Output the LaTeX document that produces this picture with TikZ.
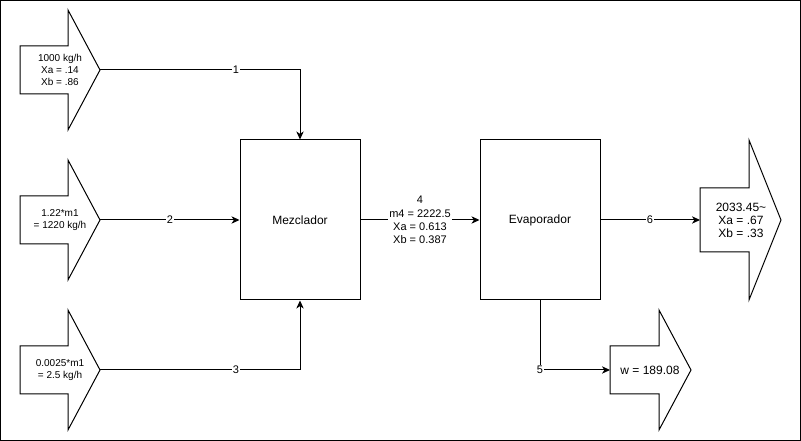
\documentclass[tikz,border=0pt]{standalone}
\usepackage{fontspec}
\setmainfont{Liberation Sans}
\usetikzlibrary{arrows.meta}
\begin{document}
\begin{tikzpicture}[x=0.75pt,y=-0.75pt,
  line width=0.75pt,
  shapeline/.style={draw=black,line width=0.75pt,line join=miter},
  unitbox/.style={draw=black,line width=0.75pt,minimum width=90pt,minimum height=120pt,inner sep=0pt,font=\fontsize{9}{10.8}\selectfont},
  intext/.style={align=center,inner sep=0pt,font=\fontsize{7.5}{9}\selectfont},
  outtext/.style={align=center,inner sep=0pt,font=\fontsize{9}{9.8}\selectfont},
  flow/.style={draw=black,line width=0.75pt,-{Stealth[length=6pt,width=5.5pt,inset=1.8pt]}},
  flowlabel/.style={fill=white,inner sep=0.6pt,font=\fontsize{8.25}{10}\selectfont,align=center}]
\useasboundingbox (0,0) rectangle (801,441);
\draw[shapeline] (0.5,0.5) rectangle (800.5,440.5);

% input arrows
\draw[shapeline] (20,46) -- (68,46) -- (68,10) -- (100,70) -- (68,130) -- (68,94) -- (20,94) -- cycle;
\node[intext] (in1) at (60,70) {1000 kg/h\\Xa = .14\\Xb = .86};
\coordinate (in1tip) at (100,70);

\draw[shapeline] (20,196) -- (68,196) -- (68,160) -- (100,220) -- (68,280) -- (68,244) -- (20,244) -- cycle;
\node[intext] (in2) at (60,220) {1.22*m1\\= 1220 kg/h};
\coordinate (in2tip) at (100,220);

\draw[shapeline] (20,346) -- (68,346) -- (68,310) -- (100,370) -- (68,430) -- (68,394) -- (20,394) -- cycle;
\node[intext] (in3) at (60,370) {0.0025*m1\\= 2.5 kg/h};
\coordinate (in3tip) at (100,370);

% units
\node[unitbox] (mix) at (300,220) {Mezclador};
\node[unitbox] (evap) at (540,220) {Evaporador};

% output arrows
\draw[shapeline] (700,188) -- (749,188) -- (749,140) -- (781,220) -- (749,300) -- (749,252) -- (700,252) -- cycle;
\node[outtext] (out6) at (741,220) {2033.45\char"7E\\Xa = .67\\Xb = .33};
\coordinate (out6in) at (700,220);

\draw[shapeline] (610,346) -- (659,346) -- (659,310) -- (691,370) -- (659,430) -- (659,394) -- (610,394) -- cycle;
\node[outtext] (out5) at (650,370) {w = 189.08};
\coordinate (out5in) at (610,370);

% connectors
\draw[flow] (in1tip) -| (mix.north);
\node[flowlabel] (l1) at (236,70) {1};
\draw[flow] (in2tip) -- (mix.west);
\node[flowlabel] (l2) at (170,220) {2};
\draw[flow] (in3tip) -| (mix.south);
\node[flowlabel] (l3) at (236,370) {3};
\draw[flow] (mix.east) -- node[flowlabel] (l4) {4\\m4 = 2222.5\\Xa = 0.613\\Xb = 0.387} (evap.west);
\draw[flow] (evap.east) -- (out6in);
\node[flowlabel] (l6) at (650,220) {6};
\draw[flow] (evap.south) |- (out5in);
\node[flowlabel] (l5) at (540,370) {5};
\end{tikzpicture}
\end{document}
